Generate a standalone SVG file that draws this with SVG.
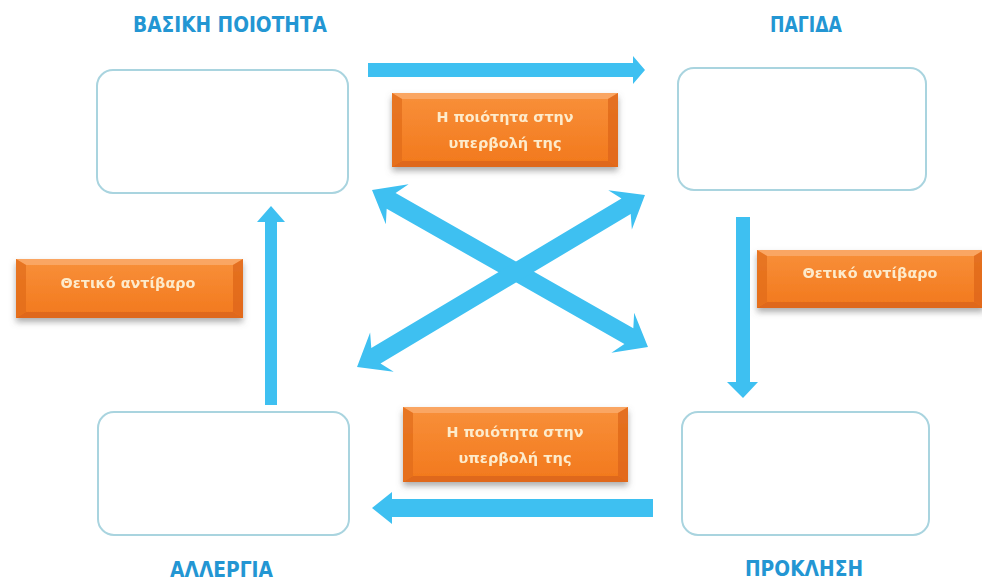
<svg xmlns="http://www.w3.org/2000/svg" width="982" height="583" viewBox="0 0 982 583">
<defs>
<style>
.box{fill:#ffffff;stroke:#a9d4df;stroke-width:2}
.head{font-family:"DejaVu Sans Condensed","DejaVu Sans",sans-serif;font-weight:bold;font-size:21px;fill:#2396d3;text-anchor:middle}
.arrow{fill:#3ec0f1}
.lbl{font-family:"DejaVu Sans","Noto Sans",sans-serif;font-weight:bold;font-size:14px;fill:#fdebcb;text-anchor:middle}
.face{fill:url(#og)}
.bt{fill:#fbae72;opacity:0.75}
.bb{fill:#d8631a;opacity:0.75}
.bl{fill:#e26c1b;opacity:0.75}
.br{fill:#dd6619;opacity:0.75}
</style>
<linearGradient id="og" x1="0" y1="0" x2="0" y2="1">
<stop offset="0" stop-color="#f8903a"/>
<stop offset="1" stop-color="#f2781c"/>
</linearGradient>
<filter id="sh" x="-10%" y="-20%" width="120%" height="160%">
<feDropShadow dx="0" dy="4" stdDeviation="3" flood-color="#6a6a6a" flood-opacity="0.55"/>
</filter>
</defs>
<rect width="982" height="583" fill="#ffffff"/>

<g id="node-basiki">
<rect class="box" x="97" y="70" width="251" height="123" rx="16"/>
<text class="head" x="230" y="32" textLength="194" lengthAdjust="spacingAndGlyphs">ΒΑΣΙΚΗ ΠΟΙΟΤΗΤΑ</text>
</g>
<g id="node-pagida">
<rect class="box" x="678" y="68" width="248" height="122" rx="16"/>
<text class="head" x="806" y="32" textLength="72" lengthAdjust="spacingAndGlyphs">ΠΑΓΙΔΑ</text>
</g>
<g id="node-proklisi">
<rect class="box" x="682" y="412" width="247" height="123" rx="16"/>
<text class="head" x="804" y="576" textLength="118" lengthAdjust="spacingAndGlyphs">ΠΡΟΚΛΗΣΗ</text>
</g>
<g id="node-allergia">
<rect class="box" x="98" y="412" width="251" height="123" rx="16"/>
<text class="head" x="221.5" y="577" textLength="103" lengthAdjust="spacingAndGlyphs">ΑΛΛΕΡΓΙΑ</text>
</g>

<g id="connectors">
<polygon class="arrow" points="368,63 633,63 633,56 645,70 633,84 633,77 368,77"/>
<polygon class="arrow" points="736,217 750,217 750,382 758,382 743,398 727,382 736,382"/>
<polygon class="arrow" points="653,499 392,499 392,492 372,508 392,524 392,517 653,517"/>
<polygon class="arrow" points="265,405 265,222 257,222 271,206 285,222 277,222 277,405"/>
<path class="arrow" transform="translate(510 268.5) rotate(29.63)" d="M -158.75 0 L -129.75 -23 L -136.75 -9 L 136.75 -9 L 129.75 -23 L 158.75 0 L 129.75 23 L 136.75 9 L -136.75 9 L -129.75 23 Z"/>
<path class="arrow" transform="translate(501 281) rotate(-30.85)" d="M -167.7 0 L -138.7 -23 L -145.7 -9 L 145.7 -9 L 138.7 -23 L 167.7 0 L 138.7 23 L 145.7 9 L -145.7 9 L -138.7 23 Z"/>
</g>

<g id="label-top" filter="url(#sh)">
<rect class="face" x="392" y="93" width="226" height="74"/>
<polygon class="bt" points="392,93 618,93 608,99 402,99"/>
<polygon class="bb" points="392,167 618,167 608,161 402,161"/>
<polygon class="bl" points="392,93 402,99 402,161 392,167"/>
<polygon class="br" points="618,93 608,99 608,161 618,167"/>
<text class="lbl" x="505" y="122" textLength="137" lengthAdjust="spacingAndGlyphs">Η ποιότητα στην</text>
<text class="lbl" x="505" y="148" textLength="113" lengthAdjust="spacingAndGlyphs">υπερβολή της</text>
</g>

<g id="label-bottom" filter="url(#sh)">
<rect class="face" x="403" y="407" width="225" height="75"/>
<polygon class="bt" points="403,407 628,407 618,413 413,413"/>
<polygon class="bb" points="403,482 628,482 618,476 413,476"/>
<polygon class="bl" points="403,407 413,413 413,476 403,482"/>
<polygon class="br" points="628,407 618,413 618,476 628,482"/>
<text class="lbl" x="515" y="437" textLength="137" lengthAdjust="spacingAndGlyphs">Η ποιότητα στην</text>
<text class="lbl" x="515" y="463" textLength="113" lengthAdjust="spacingAndGlyphs">υπερβολή της</text>
</g>

<g id="label-left" filter="url(#sh)">
<rect class="face" x="16" y="259" width="227" height="59"/>
<polygon class="bt" points="16,259 243,259 233,265 26,265"/>
<polygon class="bb" points="16,318 243,318 233,312 26,312"/>
<polygon class="bl" points="16,259 26,265 26,312 16,318"/>
<polygon class="br" points="243,259 233,265 233,312 243,318"/>
<text class="lbl" x="128" y="288" textLength="135" lengthAdjust="spacingAndGlyphs">Θετικό αντίβαρο</text>
</g>

<g id="label-right" filter="url(#sh)">
<rect class="face" x="757" y="250" width="227" height="58"/>
<polygon class="bt" points="757,250 984,250 974,256 767,256"/>
<polygon class="bb" points="757,308 984,308 974,302 767,302"/>
<polygon class="bl" points="757,250 767,256 767,302 757,308"/>
<polygon class="br" points="984,250 974,256 974,302 984,308"/>
<text class="lbl" x="870" y="278" textLength="135" lengthAdjust="spacingAndGlyphs">Θετικό αντίβαρο</text>
</g>
</svg>
